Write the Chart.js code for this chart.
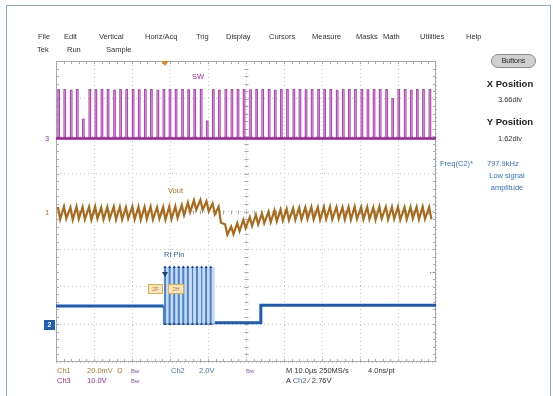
<!DOCTYPE html>
<html lang="en">
<head>
<meta charset="UTF-8">
<title>Scope capture</title>
<script src="https://cdn.jsdelivr.net/npm/chart.js"></script>
<style>
body { margin: 0; background: #fff; }
.screen { position: relative; width: 553px; height: 396px; overflow: hidden; background: #fff; }
.frame { position: absolute; left: 6px; top: 5px; width: 545px; height: 393px; border: 1px solid #86a9d8; box-sizing: border-box; }
canvas { position: absolute; left: 0; top: 0; }
.t { position: absolute; font-family: 'Liberation Sans', Arial, sans-serif; font-size: 7.5px; color: #333; white-space: nowrap; line-height: 1; }
.c { transform: translateX(-50%); }
.b { font-weight: bold; font-size: 9.5px; color: #222; }
.btn { position: absolute; left: 491px; top: 54px; width: 45px; height: 14px; border-radius: 7px; background: #cfcfcf; border: 1px solid #8a8a8a; box-sizing: border-box; font: 7px 'Liberation Sans', Arial, sans-serif; color: #222; text-align: center; line-height: 12px; }
.ch1 { color: #b07a2c; }
.ch2 { color: #4f72ad; }
.ch3 { color: #9c2c9e; }
.bw { color: #8a5aa8; font-size: 6px; }
.mark { position: absolute; width: 0; height: 0; }
.box2 { position: absolute; left: 44px; top: 320px; width: 11px; height: 10px; background: #1d5db6; color: #fff; font: bold 7px 'Liberation Sans', Arial, sans-serif; text-align: center; line-height: 10px; }
.obox { position: absolute; top: 284px; height: 8px; background: #fbe7bf; border: 1px solid #e2a94a; font: 5.5px 'Liberation Sans', Arial, sans-serif; color: #b07a2c; line-height: 8px; text-align: center; }
</style>
</head>
<body>
<div class="screen">
  <canvas id="scope" width="553" height="396"></canvas>
  <div class="frame"></div>

  <!-- menu bar -->
  <div class="t" style="left:38px;top:33px">File</div>
  <div class="t" style="left:64px;top:33px">Edit</div>
  <div class="t" style="left:99px;top:33px">Vertical</div>
  <div class="t" style="left:145px;top:33px">Horiz/Acq</div>
  <div class="t" style="left:196px;top:33px">Trig</div>
  <div class="t" style="left:226px;top:33px">Display</div>
  <div class="t" style="left:269px;top:33px">Cursors</div>
  <div class="t" style="left:312px;top:33px">Measure</div>
  <div class="t" style="left:356px;top:33px">Masks</div>
  <div class="t" style="left:383px;top:33px">Math</div>
  <div class="t" style="left:420px;top:33px">Utilities</div>
  <div class="t" style="left:466px;top:33px">Help</div>
  <div class="t" style="left:37px;top:46px">Tek</div>
  <div class="t" style="left:67px;top:46px">Run</div>
  <div class="t" style="left:106px;top:46px">Sample</div>

  <!-- right panel -->
  <div class="btn">Buttons</div>
  <div class="t b c" style="left:510px;top:79px">X Position</div>
  <div class="t c" style="left:510px;top:96px">3.66div</div>
  <div class="t b c" style="left:510px;top:117px">Y Position</div>
  <div class="t c" style="left:510px;top:135px">1.62div</div>
  <div class="t ch2" style="left:440px;top:160px;color:#3b6fc2">Freq(C2)*</div>
  <div class="t ch2" style="left:487px;top:160px;color:#3b6fc2">797.9kHz</div>
  <div class="t c" style="left:507px;top:172px;color:#3b6fc2">Low signal</div>
  <div class="t c" style="left:507px;top:184px;color:#3b6fc2">amplitude</div>

  <!-- trace labels and markers -->
  <div class="t" style="left:192px;top:73px;color:#a0309f">SW</div>
  <div class="t" style="left:168px;top:187px;color:#a8701f">Vout</div>
  <div class="t" style="left:164px;top:251px;color:#2f62b3">Rt Pin</div>
  <div class="t" style="left:45px;top:135px;color:#a0309f">3</div>
  <div class="t" style="left:45px;top:209px;color:#a8701f">1</div>
  <div class="box2">2</div>
  <div class="t" style="left:428px;top:268px;color:#1d5db6;font-size:8px">&larr;</div>
  <div class="mark" style="left:161px;top:61px;border-left:4px solid transparent;border-right:4px solid transparent;border-top:5px solid #e08a1e"></div>
  <div class="mark" style="left:162px;top:272px;border-left:3px solid transparent;border-right:3px solid transparent;border-top:5px solid #1d3f7a"></div>
  <div class="obox" style="left:148px;width:13px">2F</div>
  <div class="obox" style="left:168px;width:14px">2H</div>

  <!-- status lines -->
  <div class="t ch1" style="left:57px;top:367px">Ch1</div>
  <div class="t ch1" style="left:87px;top:367px">20.0mV</div>
  <div class="t ch1" style="left:117px;top:367px">&Omega;</div>
  <div class="t bw" style="left:131px;top:368px">Bw</div>
  <div class="t ch2" style="left:171px;top:367px">Ch2</div>
  <div class="t ch2" style="left:199px;top:367px">2.0V</div>
  <div class="t bw" style="left:246px;top:368px">Bw</div>
  <div class="t" style="left:286px;top:367px">M 10.0&micro;s 250MS/s</div>
  <div class="t" style="left:368px;top:367px">4.0ns/pt</div>
  <div class="t ch3" style="left:57px;top:377px">Ch3</div>
  <div class="t ch3" style="left:87px;top:377px">10.0V</div>
  <div class="t bw" style="left:131px;top:378px">Bw</div>
  <div class="t" style="left:286px;top:377px">A <span class="ch2">Ch2</span> &#8260; 2.76V</div>
</div>

<script>
// time axis in microseconds (10 us/div), vertical axis in divisions
const timeSpan = [0, 100];
const divSpan = [-4, 4];

// SW (Ch3): switching pulse times and pulse tops
const swBase = 1.94;
const swPulseTimes = [0.5, 2.1, 3.8, 5.4, 7.0, 8.7, 10.3, 11.9, 13.5, 15.2,
  16.8, 18.4, 20.1, 21.7, 23.3, 24.9, 26.6, 28.2, 29.8, 31.4,
  33.1, 34.7, 36.3, 38.0, 39.6, 41.2, 42.8, 44.5, 46.1, 47.7,
  49.3, 51.0, 52.6, 54.2, 55.9, 57.5, 59.1, 60.7, 62.4, 64.0,
  65.6, 67.2, 68.9, 70.5, 72.1, 73.8, 75.4, 77.0, 78.6, 80.3,
  81.9, 83.5, 85.1, 86.8, 88.4, 90.0, 91.7, 93.3, 94.9, 96.5, 98.2];
const swPulseTops = [3.24, 3.24, 3.22, 3.24, 2.45, 3.24, 3.23, 3.24, 3.24, 3.22,
  3.24, 3.24, 3.24, 3.23, 3.24, 3.24, 3.22, 3.24, 3.24, 3.24,
  3.24, 3.23, 3.24, 3.24, 2.4, 3.24, 3.22, 3.24, 3.24, 3.24,
  3.24, 3.23, 3.24, 3.24, 3.24, 3.22, 3.24, 3.24, 3.24, 3.24,
  3.23, 3.24, 3.24, 3.24, 3.24, 3.22, 3.24, 3.24, 3.24, 3.24,
  3.23, 3.24, 3.24, 3.24, 3.0, 3.24, 3.24, 3.22, 3.24, 3.24, 3.24];
const swPulseWidth = 0.4;

// Vout (Ch1): ripple peak and trough per switching cycle
const voutPeak = [0.12, 0.13, 0.11, 0.13, 0.12, 0.12, 0.13, 0.11, 0.12, 0.13,
  0.12, 0.11, 0.13, 0.12, 0.12, 0.13, 0.11, 0.12, 0.13, 0.14,
  0.17, 0.24, 0.30, 0.31, 0.27, 0.21,
  0.13, -0.34, -0.40, -0.31, -0.22, -0.15, -0.09, -0.05, -0.01, 0.03, 0.05, 0.07, 0.09,
  0.10, 0.11, 0.12, 0.11, 0.12, 0.13, 0.12, 0.11, 0.12, 0.13, 0.12,
  0.12, 0.11, 0.13, 0.12, 0.12, 0.13, 0.11, 0.12, 0.12, 0.13, 0.12];
const voutTrough = [-0.21, -0.19, -0.22, -0.20, -0.21, -0.22, -0.19, -0.21, -0.20, -0.22,
  -0.21, -0.19, -0.21, -0.22, -0.20, -0.21, -0.19, -0.22, -0.20, -0.17,
  -0.10, -0.02, 0.04, 0.04, 0.00, -0.07,
  -0.30, -0.62, -0.60, -0.52, -0.44, -0.38, -0.34, -0.31, -0.28, -0.26, -0.24, -0.23, -0.22,
  -0.21, -0.20, -0.21, -0.22, -0.20, -0.21, -0.19, -0.21, -0.22, -0.20, -0.21,
  -0.20, -0.22, -0.19, -0.21, -0.20, -0.22, -0.21, -0.19, -0.21, -0.20, -0.21];
const voutFallTime = 0.6;

// Rt Pin (Ch2): level steps and the burst of pulses
const ch2StepTimes = [0, 28.3, null, 41.8, 53.9, 53.9, 100];
const ch2StepValues = [-2.51, -2.51, null, -2.96, -2.96, -2.49, -2.49];
const rtPulseTimes = [28.6, 29.8, 31.0, 32.2, 33.4, 34.6, 35.8, 37.0, 38.2, 39.4, 40.6];
const rtBurstStart = 28.3, rtBurstEnd = 41.8;
const rtHigh = -1.48, rtLow = -2.99;

// build point lists from the arrays above
const swPoints = [{x: timeSpan[0], y: swBase}];
swPulseTimes.forEach((t, i) => {
  swPoints.push({x: t, y: swBase}, {x: t, y: swPulseTops[i]},
    {x: t + swPulseWidth, y: swPulseTops[i]}, {x: t + swPulseWidth, y: swBase});
});
swPoints.push({x: timeSpan[1], y: swBase});

const voutPoints = [];
swPulseTimes.forEach((t, i) => {
  voutPoints.push({x: t, y: voutPeak[i]}, {x: t + voutFallTime, y: voutTrough[i]});
});

const ch2Points = ch2StepTimes.map((t, i) => ({x: t === null ? 35 : t, y: ch2StepValues[i]}));

const rtPoints = [{x: rtBurstStart, y: ch2StepValues[1]}, {x: rtBurstStart, y: rtLow}];
rtPulseTimes.forEach(t => {
  rtPoints.push({x: t, y: rtLow}, {x: t, y: rtHigh}, {x: t + 0.2, y: rtHigh}, {x: t + 0.2, y: rtLow});
});
rtPoints.push({x: rtBurstEnd, y: rtLow});

const rtMarks = [];
rtPulseTimes.forEach(t => { rtMarks.push({x: t + 0.1, y: rtHigh}, {x: t + 0.1, y: rtLow}); });

// frame, minor ticks on the border and the centre cross
const scopeFrame = {
  id: 'scopeFrame',
  beforeDatasetsDraw(chart) {
    const {ctx, chartArea: a} = chart;
    const cx = Math.round((a.left + a.right) / 2) + 0.5;
    const cy = Math.round((a.top + a.bottom) / 2) + 0.5;
    const dx = (a.right - a.left) / 50, dy = (a.bottom - a.top) / 40;
    ctx.save();
    ctx.strokeStyle = '#a9a9a9';
    ctx.lineWidth = 1;
    ctx.strokeRect(a.left + 0.5, a.top + 0.5, a.right - a.left - 1, a.bottom - a.top - 1);
    ctx.beginPath();
    for (let i = 1; i < 50; i++) {
      const x = Math.round(a.left + i * dx) + 0.5;
      ctx.moveTo(x, a.top); ctx.lineTo(x, a.top + 3);
      ctx.moveTo(x, a.bottom); ctx.lineTo(x, a.bottom - 3);
      ctx.moveTo(x, cy - 2); ctx.lineTo(x, cy + 2);
    }
    for (let j = 1; j < 40; j++) {
      const y = Math.round(a.top + j * dy) + 0.5;
      ctx.moveTo(a.left, y); ctx.lineTo(a.left + 3, y);
      ctx.moveTo(a.right, y); ctx.lineTo(a.right - 3, y);
      ctx.moveTo(cx - 2, y); ctx.lineTo(cx + 2, y);
    }
    ctx.stroke();
    ctx.restore();
  }
};

new Chart(document.getElementById('scope'), {
  type: 'line',
  data: {
    datasets: [
      { data: [{x: rtBurstStart, y: rtHigh}, {x: rtBurstEnd, y: rtHigh}],
        borderWidth: 0, backgroundColor: '#c6daf1', fill: {value: rtLow}, order: 5 },
      { data: swPoints, borderColor: '#b048b6', borderWidth: 1.2, order: 4 },
      { data: [{x: timeSpan[0], y: swBase}, {x: timeSpan[1], y: swBase}],
        borderColor: '#9a1f9e', borderWidth: 2.5, order: 3 },
      { data: voutPoints, borderColor: '#a96a1c', borderWidth: 2.2, order: 2 },
      { data: rtPoints, borderColor: '#4a82cc', borderWidth: 1.2, order: 1 },
      { data: ch2Points, borderColor: '#1c5bb4', borderWidth: 3, spanGaps: false, order: 0 },
      { data: rtMarks, showLine: false, pointRadius: 1.8, pointStyle: 'triangle',
        pointBackgroundColor: '#1a4c9c', pointBorderWidth: 0, order: 0 }
    ]
  },
  options: {
    responsive: false,
    animation: false,
    devicePixelRatio: 1,
    layout: { padding: { left: 56, top: 61, right: 117, bottom: 34 } },
    elements: { point: { radius: 0 }, line: { tension: 0 } },
    plugins: { legend: { display: false }, tooltip: { enabled: false } },
    scales: {
      x: {
        type: 'linear', min: timeSpan[0], max: timeSpan[1],
        ticks: { display: false, stepSize: 10 },
        grid: { color: '#c4c4c4', drawTicks: false },
        border: { display: false, dash: [1, 3] }
      },
      y: {
        type: 'linear', min: divSpan[0], max: divSpan[1],
        ticks: { display: false, stepSize: 1 },
        grid: { color: '#c4c4c4', drawTicks: false },
        border: { display: false, dash: [1, 3] }
      }
    }
  },
  plugins: [scopeFrame]
});
</script>
</body>
</html>
